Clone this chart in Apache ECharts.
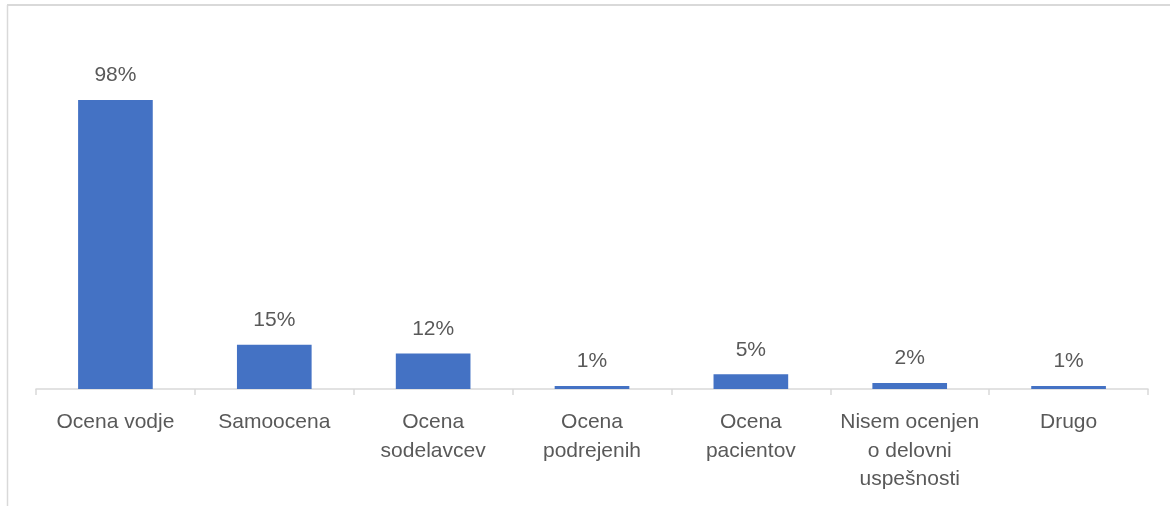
<!DOCTYPE html>
<html>
<head>
<meta charset="utf-8">
<script src="https://cdn.jsdelivr.net/npm/echarts@6/dist/echarts.min.js"></script>
<style>
  html, body { margin: 0; padding: 0; background: #fff; }
  #chart { width: 1170px; height: 506px; }
</style>
</head>
<body>
<div id="chart"></div>
<script>
// Načini ocenjevanja delovne uspešnosti (delež anketirancev, %)
const categories = [
  'Ocena vodje',
  'Samoocena',
  'Ocena\nsodelavcev',
  'Ocena\npodrejenih',
  'Ocena\npacientov',
  'Nisem ocenjen\no delovni\nuspešnosti',
  'Drugo'
];
const shares = [98, 15, 12, 1, 5, 2, 1];

const textColor = '#595959';
const fontFamily = 'Liberation Sans, Arial, sans-serif';

const chart = echarts.init(document.getElementById('chart'), null, { renderer: 'canvas' });
chart.setOption({
  animation: false,
  graphic: [
    { type: 'line', shape: { x1: 7, y1: 5, x2: 1170, y2: 5 }, style: { stroke: '#d9d9d9', lineWidth: 2 } },
    { type: 'line', shape: { x1: 7.5, y1: 5, x2: 7.5, y2: 506 }, style: { stroke: '#d9d9d9', lineWidth: 1.5 } }
  ],
  grid: { left: 36, right: 22, top: 94, bottom: 117, containLabel: false },
  xAxis: {
    type: 'category',
    data: categories,
    boundaryGap: true,
    axisLine: { show: true, lineStyle: { color: '#d9d9d9', width: 1.5 } },
    axisTick: { show: true, length: 6, lineStyle: { color: '#d9d9d9', width: 1.5 } },
    axisLabel: {
      color: textColor,
      fontSize: 21,
      fontFamily: fontFamily,
      lineHeight: 28.5,
      margin: 19,
      interval: 0
    }
  },
  yAxis: {
    type: 'value',
    min: 0,
    max: 100,
    show: false,
    splitLine: { show: false }
  },
  series: [{
    type: 'bar',
    data: shares,
    barWidth: '47%',
    itemStyle: { color: '#4472C4' },
    label: {
      show: true,
      position: 'top',
      distance: 14,
      color: textColor,
      fontSize: 21,
      fontFamily: fontFamily,
      formatter: p => p.value + '%'
    }
  }]
});
</script>
</body>
</html>
